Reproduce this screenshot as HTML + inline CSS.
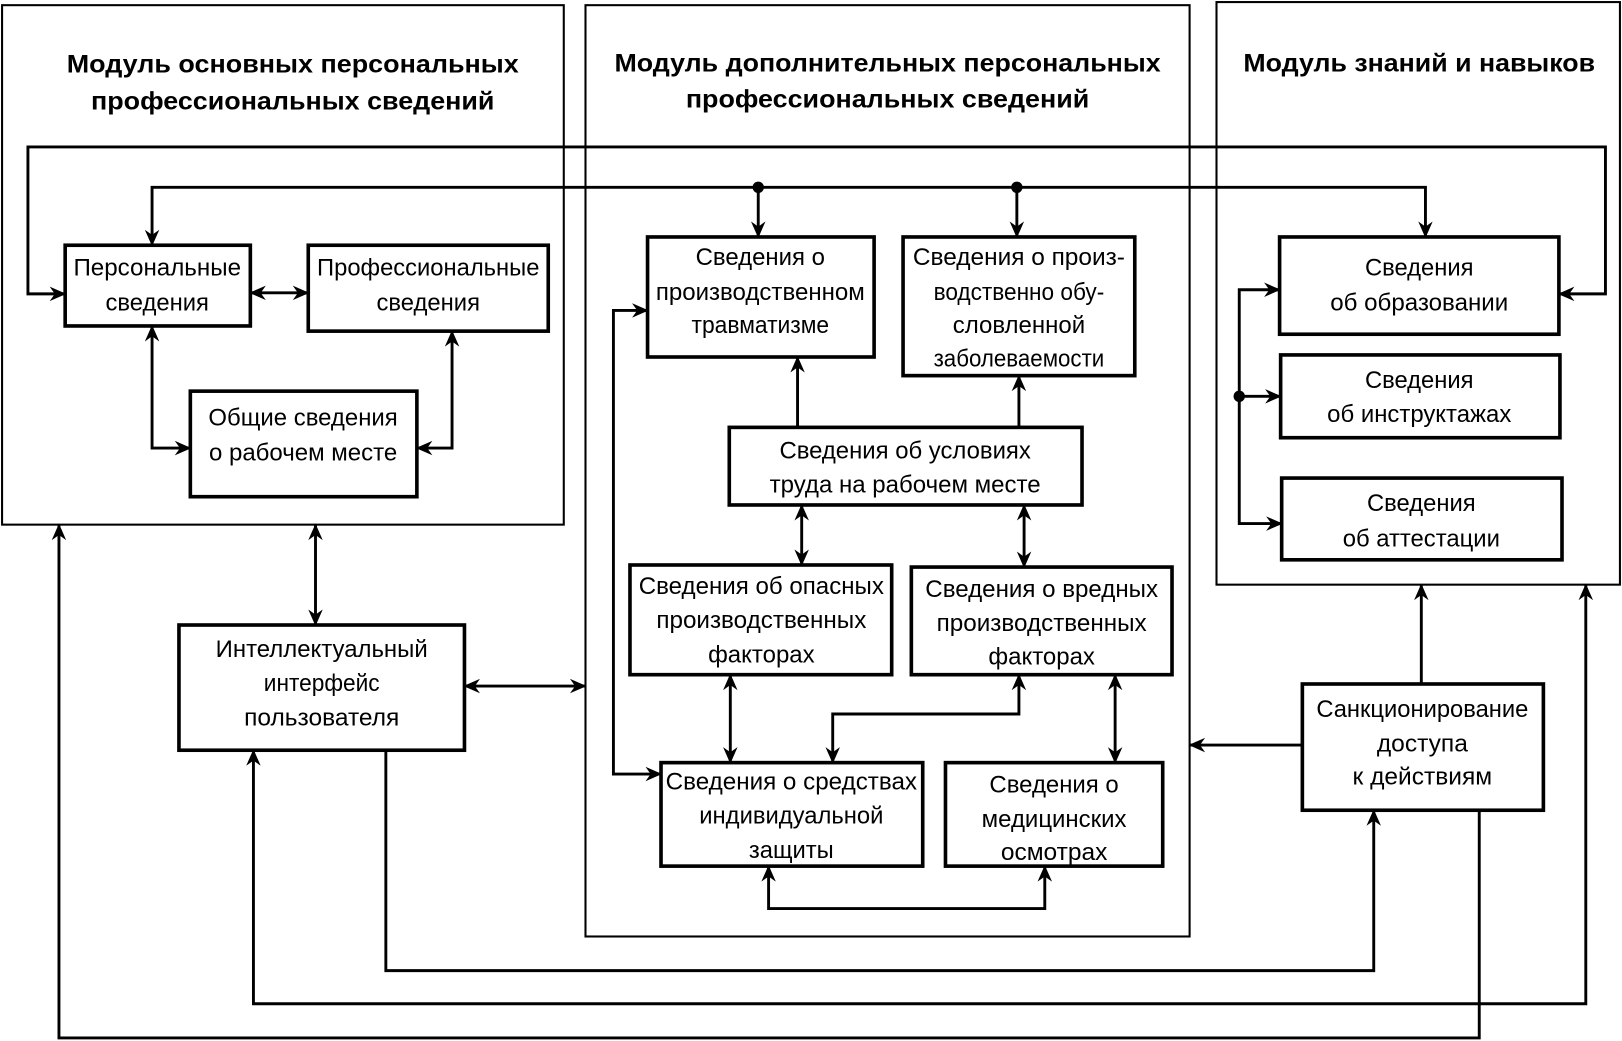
<!DOCTYPE html>
<html><head><meta charset="utf-8"><style>
html,body{margin:0;padding:0;background:#fff;}
svg{display:block;}
text{font-family:"Liberation Sans Narrow","Liberation Sans",sans-serif;font-size:23px;fill:#000;text-anchor:middle;}
.t{font-weight:bold;font-size:24px;}
</style></head><body>
<svg width="1622" height="1041" viewBox="0 0 1568 1006" preserveAspectRatio="none" xmlns="http://www.w3.org/2000/svg">
<defs>
<marker id="a" viewBox="0 0 16 14" refX="15" refY="7" markerWidth="16" markerHeight="14" markerUnits="userSpaceOnUse" orient="auto-start-reverse">
<path d="M0,0 L16,7 L0,14 L5,7 Z" fill="#000"/>
</marker>
</defs>
<g fill="none" stroke="#000">
<rect x="2" y="5" width="543" height="502" stroke-width="2"/>
<rect x="566" y="5" width="584" height="900" stroke-width="2"/>
<rect x="1176" y="2" width="390" height="563" stroke-width="2"/>
<g stroke-width="3.5">
<rect x="63" y="237" width="179" height="78"/>
<rect x="298" y="237" width="232" height="83"/>
<rect x="184" y="378" width="219" height="102"/>
<rect x="173" y="604" width="276" height="121"/>
<rect x="626" y="229" width="219" height="116"/>
<rect x="873" y="229" width="224" height="134"/>
<rect x="705" y="413" width="341" height="75"/>
<rect x="609" y="546" width="253" height="106"/>
<rect x="881" y="548" width="252" height="104"/>
<rect x="639" y="737" width="253" height="100"/>
<rect x="914" y="737" width="210" height="100"/>
<rect x="1237" y="229" width="270" height="94"/>
<rect x="1238" y="343" width="270" height="80"/>
<rect x="1239" y="462" width="271" height="79"/>
<rect x="1259" y="661" width="233" height="122"/>
</g>
<g stroke-width="2.8">
<path d="M63,284 H27 V142 H1552 V284 H1507" marker-start="url(#a)" marker-end="url(#a)"/>
<path d="M147,237 V181 H1378 V229" marker-start="url(#a)" marker-end="url(#a)"/>
<path d="M733,181 V229" marker-end="url(#a)"/>
<path d="M983,181 V229" marker-end="url(#a)"/>
<path d="M242,283 H298" marker-start="url(#a)" marker-end="url(#a)"/>
<path d="M147,315 V433 H184" marker-start="url(#a)" marker-end="url(#a)"/>
<path d="M437,320 V433 H403" marker-start="url(#a)" marker-end="url(#a)"/>
<path d="M305,507 V604" marker-start="url(#a)" marker-end="url(#a)"/>
<path d="M449,663 H566" marker-start="url(#a)" marker-end="url(#a)"/>
<path d="M771,413 V345" marker-end="url(#a)"/>
<path d="M985,413 V363" marker-end="url(#a)"/>
<path d="M775,488 V546" marker-start="url(#a)" marker-end="url(#a)"/>
<path d="M990,488 V548" marker-start="url(#a)" marker-end="url(#a)"/>
<path d="M706,652 V737" marker-start="url(#a)" marker-end="url(#a)"/>
<path d="M985,652 V690 H805 V737" marker-start="url(#a)" marker-end="url(#a)"/>
<path d="M1078,652 V737" marker-start="url(#a)" marker-end="url(#a)"/>
<path d="M743,837 V878 H1010 V837" marker-start="url(#a)" marker-end="url(#a)"/>
<path d="M626,300 H593 V748 H639" marker-start="url(#a)" marker-end="url(#a)"/>
<path d="M1237,280 H1198 V506 H1239" marker-start="url(#a)" marker-end="url(#a)"/>
<path d="M1198,383 H1238" marker-end="url(#a)"/>
<path d="M1374,661 V565" marker-end="url(#a)"/>
<path d="M1259,720 H1150" marker-end="url(#a)"/>
<path d="M373,725 V938 H1328 V783" marker-end="url(#a)"/>
<path d="M245,725 V970 H1533 V565" marker-start="url(#a)" marker-end="url(#a)"/>
<path d="M1430,783 V1003 H57 V507" marker-end="url(#a)"/>
</g>
</g>
<circle cx="733" cy="181" r="5.5"/>
<circle cx="983" cy="181" r="5.5"/>
<circle cx="1198" cy="383" r="5.5"/>
<text class="t" x="283" y="70" textLength="437" lengthAdjust="spacingAndGlyphs">Модуль основных персональных</text>
<text class="t" x="283" y="106" textLength="390" lengthAdjust="spacingAndGlyphs">профессиональных сведений</text>
<text class="t" x="858" y="69" textLength="528" lengthAdjust="spacingAndGlyphs">Модуль дополнительных персональных</text>
<text class="t" x="858" y="104" textLength="390" lengthAdjust="spacingAndGlyphs">профессиональных сведений</text>
<text class="t" x="1372" y="69" textLength="340" lengthAdjust="spacingAndGlyphs">Модуль знаний и навыков</text>
<text x="152" y="266" textLength="162" lengthAdjust="spacingAndGlyphs">Персональные</text>
<text x="152" y="300" textLength="100" lengthAdjust="spacingAndGlyphs">сведения</text>
<text x="414" y="266" textLength="215" lengthAdjust="spacingAndGlyphs">Профессиональные</text>
<text x="414" y="300" textLength="100" lengthAdjust="spacingAndGlyphs">сведения</text>
<text x="293" y="411" textLength="183" lengthAdjust="spacingAndGlyphs">Общие сведения</text>
<text x="293" y="445" textLength="182" lengthAdjust="spacingAndGlyphs">о рабочем месте</text>
<text x="311" y="635" textLength="205" lengthAdjust="spacingAndGlyphs">Интеллектуальный</text>
<text x="311" y="668" textLength="112" lengthAdjust="spacingAndGlyphs">интерфейс</text>
<text x="311" y="701" textLength="150" lengthAdjust="spacingAndGlyphs">пользователя</text>
<text x="735" y="256" textLength="125" lengthAdjust="spacingAndGlyphs">Сведения о</text>
<text x="735" y="290" textLength="202" lengthAdjust="spacingAndGlyphs">производственном</text>
<text x="735" y="322" textLength="133" lengthAdjust="spacingAndGlyphs">травматизме</text>
<text x="985" y="256" textLength="205" lengthAdjust="spacingAndGlyphs">Сведения о произ-</text>
<text x="985" y="290" textLength="165" lengthAdjust="spacingAndGlyphs">водственно обу-</text>
<text x="985" y="322" textLength="128" lengthAdjust="spacingAndGlyphs">словленной</text>
<text x="985" y="354" textLength="165" lengthAdjust="spacingAndGlyphs">заболеваемости</text>
<text x="875" y="443" textLength="243" lengthAdjust="spacingAndGlyphs">Сведения об условиях</text>
<text x="875" y="476" textLength="262" lengthAdjust="spacingAndGlyphs">труда на рабочем месте</text>
<text x="736" y="574" textLength="237" lengthAdjust="spacingAndGlyphs">Сведения об опасных</text>
<text x="736" y="607" textLength="203" lengthAdjust="spacingAndGlyphs">производственных</text>
<text x="736" y="640" textLength="103" lengthAdjust="spacingAndGlyphs">факторах</text>
<text x="1007" y="577" textLength="225" lengthAdjust="spacingAndGlyphs">Сведения о вредных</text>
<text x="1007" y="610" textLength="203" lengthAdjust="spacingAndGlyphs">производственных</text>
<text x="1007" y="642" textLength="103" lengthAdjust="spacingAndGlyphs">факторах</text>
<text x="765" y="763" textLength="243" lengthAdjust="spacingAndGlyphs">Сведения о средствах</text>
<text x="765" y="796" textLength="178" lengthAdjust="spacingAndGlyphs">индивидуальной</text>
<text x="765" y="829" textLength="82" lengthAdjust="spacingAndGlyphs">защиты</text>
<text x="1019" y="766" textLength="125" lengthAdjust="spacingAndGlyphs">Сведения о</text>
<text x="1019" y="799" textLength="140" lengthAdjust="spacingAndGlyphs">медицинских</text>
<text x="1019" y="831" textLength="103" lengthAdjust="spacingAndGlyphs">осмотрах</text>
<text x="1372" y="266" textLength="105" lengthAdjust="spacingAndGlyphs">Сведения</text>
<text x="1372" y="300" textLength="172" lengthAdjust="spacingAndGlyphs">об образовании</text>
<text x="1372" y="375" textLength="105" lengthAdjust="spacingAndGlyphs">Сведения</text>
<text x="1372" y="408" textLength="178" lengthAdjust="spacingAndGlyphs">об инструктажах</text>
<text x="1374" y="494" textLength="105" lengthAdjust="spacingAndGlyphs">Сведения</text>
<text x="1374" y="528" textLength="152" lengthAdjust="spacingAndGlyphs">об аттестации</text>
<text x="1375" y="693" textLength="205" lengthAdjust="spacingAndGlyphs">Санкционирование</text>
<text x="1375" y="726" textLength="88" lengthAdjust="spacingAndGlyphs">доступа</text>
<text x="1375" y="758" textLength="135" lengthAdjust="spacingAndGlyphs">к действиям</text>
</svg>
</body></html>
